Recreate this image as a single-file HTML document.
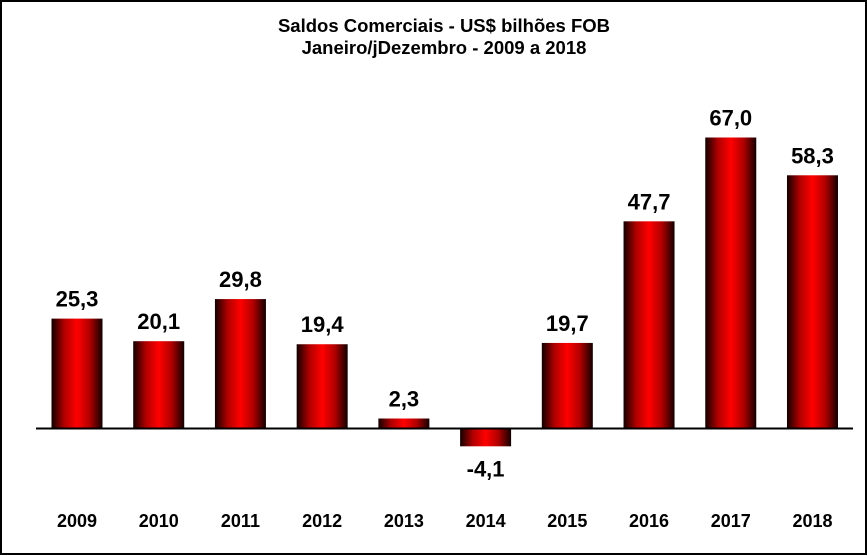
<!DOCTYPE html>
<html><head><meta charset="utf-8"><style>
html,body{margin:0;padding:0;background:#fff}
svg{display:block}
text{font-family:"Liberation Sans",Arial,sans-serif;font-weight:bold;fill:#000}
</style></head><body>
<svg width="867" height="556">
<defs><linearGradient id="g" x1="0" x2="1" y1="0" y2="0">
<stop offset="0" stop-color="#120000"/><stop offset="0.25" stop-color="#b00000"/><stop offset="0.5" stop-color="#ff0000"/><stop offset="0.75" stop-color="#b00000"/><stop offset="1" stop-color="#120000"/></linearGradient></defs>
<rect x="1" y="1" width="865" height="553" fill="#fff" stroke="#000" stroke-width="2"/>
<text x="444" y="32" font-size="18.5" text-anchor="middle">Saldos Comerciais - US$ bilhões FOB</text>
<text x="444" y="54" font-size="18.5" text-anchor="middle">Janeiro/jDezembro - 2009 a 2018</text>
<g id="bars"></g>
<line x1="36" x2="853" y1="428.5" y2="428.5" stroke="#000" stroke-width="2"/>
</svg>
<script>
const years=["2009","2010","2011","2012","2013","2014","2015","2016","2017","2018"];
const values=[25.3,20.1,29.8,19.4,2.3,-4.1,19.7,47.7,67.0,58.3];
const labels=["25,3","20,1","29,8","19,4","2,3","-4,1","19,7","47,7","67,0","58,3"];
const ns="http://www.w3.org/2000/svg";
const g=document.getElementById('bars');
const y0=428.5, k=291/67;
const xc=i=>77+i*81.72;
const ys=v=>y0-v*k;
function mk(t,a){const e=document.createElementNS(ns,t);for(const n in a)e.setAttribute(n,a[n]);g.appendChild(e);return e;}
values.forEach((v,i)=>{
 const top=Math.min(ys(v),y0), h=Math.abs(ys(v)-y0);
 const r=mk('rect',{x:xc(i)-25.5,y:top,width:51,height:h,fill:'url(#g)'});
 
 
 const ly=v>=0?ys(v)-12:ys(v)+30;
 const t=mk('text',{x:xc(i),y:ly,'font-size':22,'text-anchor':'middle'});
 t.textContent=labels[i];
 
 
 const c=mk('text',{x:xc(i),y:527,'font-size':18,'text-anchor':'middle'});
 c.textContent=years[i];
 
 
});
</script>
</body></html>
